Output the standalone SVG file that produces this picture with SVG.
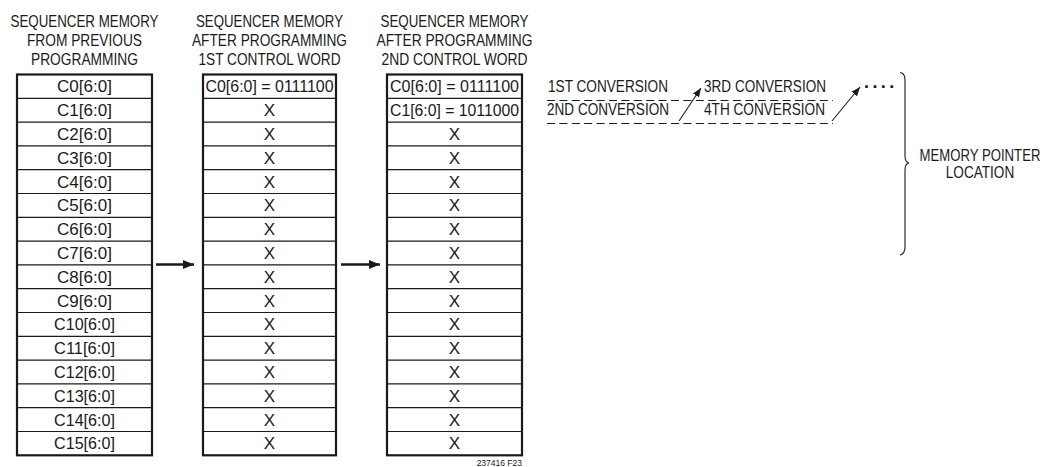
<svg xmlns="http://www.w3.org/2000/svg" width="1047" height="467" viewBox="0 0 1047 467">
<style>
text{font-family:"Liberation Sans",Arial,sans-serif;fill:#1a1a1a}
.h{font-size:17px;text-anchor:middle}
.c{font-size:17px;text-anchor:middle}
.t{font-size:17px}
.frame{fill:#fff;stroke:#1a1a1a;stroke-width:2.2}
.rows{fill:none;stroke:#1a1a1a;stroke-width:1.2}
.big{stroke:#1a1a1a;stroke-width:2.5;fill:none}
.thin{stroke:#1a1a1a;stroke-width:1.1;fill:none}
.dash{stroke:#1a1a1a;stroke-width:1.2;fill:none;stroke-dasharray:8 4.4}
</style>
<defs>
<marker id="ah" viewBox="0 0 10 10" refX="10" refY="5" markerWidth="11" markerHeight="11" markerUnits="userSpaceOnUse" orient="auto"><path d="M0,0.8 L10,5 L0,9.2 Z" fill="#1a1a1a"/></marker>
<marker id="as" viewBox="0 0 10 10" refX="10" refY="5" markerWidth="9" markerHeight="9" markerUnits="userSpaceOnUse" orient="auto"><path d="M0,1 L10,5 L0,9 Z" fill="#1a1a1a"/></marker>
</defs>

<g id="table1">
<text class="h" x="84.5" y="26.5" textLength="148" lengthAdjust="spacingAndGlyphs">SEQUENCER MEMORY</text>
<text class="h" x="84.5" y="45.8" textLength="115" lengthAdjust="spacingAndGlyphs">FROM PREVIOUS</text>
<text class="h" x="84.5" y="65" textLength="107" lengthAdjust="spacingAndGlyphs">PROGRAMMING</text>
<rect class="frame" x="17" y="74.5" width="135" height="380.8"/>
<path class="rows" d="M17,98.3H152M17,122.1H152M17,145.9H152M17,169.7H152M17,193.5H152M17,217.3H152M17,241.1H152M17,264.9H152M17,288.7H152M17,312.5H152M17,336.3H152M17,360.1H152M17,383.9H152M17,407.7H152M17,431.5H152"/>
<text class="c" x="84.5" y="92.3">C0[6:0]</text>
<text class="c" x="84.5" y="116.1">C1[6:0]</text>
<text class="c" x="84.5" y="139.9">C2[6:0]</text>
<text class="c" x="84.5" y="163.7">C3[6:0]</text>
<text class="c" x="84.5" y="187.5">C4[6:0]</text>
<text class="c" x="84.5" y="211.3">C5[6:0]</text>
<text class="c" x="84.5" y="235.1">C6[6:0]</text>
<text class="c" x="84.5" y="258.9">C7[6:0]</text>
<text class="c" x="84.5" y="282.7">C8[6:0]</text>
<text class="c" x="84.5" y="306.5">C9[6:0]</text>
<text class="c" x="84.5" y="330.3" textLength="61" lengthAdjust="spacingAndGlyphs">C10[6:0]</text>
<text class="c" x="84.5" y="354.1" textLength="61" lengthAdjust="spacingAndGlyphs">C11[6:0]</text>
<text class="c" x="84.5" y="377.9" textLength="61" lengthAdjust="spacingAndGlyphs">C12[6:0]</text>
<text class="c" x="84.5" y="401.7" textLength="61" lengthAdjust="spacingAndGlyphs">C13[6:0]</text>
<text class="c" x="84.5" y="425.5" textLength="61" lengthAdjust="spacingAndGlyphs">C14[6:0]</text>
<text class="c" x="84.5" y="449.3" textLength="61" lengthAdjust="spacingAndGlyphs">C15[6:0]</text>
</g>

<g id="table2">
<text class="h" x="269.5" y="26.5" textLength="147" lengthAdjust="spacingAndGlyphs">SEQUENCER MEMORY</text>
<text class="h" x="269.5" y="45.8" textLength="155" lengthAdjust="spacingAndGlyphs">AFTER PROGRAMMING</text>
<text class="h" x="269.5" y="65" textLength="142" lengthAdjust="spacingAndGlyphs">1ST CONTROL WORD</text>
<rect class="frame" x="203" y="74.5" width="133" height="380.8"/>
<path class="rows" d="M203,98.3H336M203,122.1H336M203,145.9H336M203,169.7H336M203,193.5H336M203,217.3H336M203,241.1H336M203,264.9H336M203,288.7H336M203,312.5H336M203,336.3H336M203,360.1H336M203,383.9H336M203,407.7H336M203,431.5H336"/>
<text class="c" x="269.5" y="92.3" textLength="128" lengthAdjust="spacingAndGlyphs">C0[6:0] = 0111100</text>
<text class="c" x="269.5" y="116.1">X</text>
<text class="c" x="269.5" y="139.9">X</text>
<text class="c" x="269.5" y="163.7">X</text>
<text class="c" x="269.5" y="187.5">X</text>
<text class="c" x="269.5" y="211.3">X</text>
<text class="c" x="269.5" y="235.1">X</text>
<text class="c" x="269.5" y="258.9">X</text>
<text class="c" x="269.5" y="282.7">X</text>
<text class="c" x="269.5" y="306.5">X</text>
<text class="c" x="269.5" y="330.3">X</text>
<text class="c" x="269.5" y="354.1">X</text>
<text class="c" x="269.5" y="377.9">X</text>
<text class="c" x="269.5" y="401.7">X</text>
<text class="c" x="269.5" y="425.5">X</text>
<text class="c" x="269.5" y="449.3">X</text>
</g>

<g id="table3">
<text class="h" x="454.5" y="26.5" textLength="148" lengthAdjust="spacingAndGlyphs">SEQUENCER MEMORY</text>
<text class="h" x="454.5" y="45.8" textLength="156" lengthAdjust="spacingAndGlyphs">AFTER PROGRAMMING</text>
<text class="h" x="454.5" y="65" textLength="146" lengthAdjust="spacingAndGlyphs">2ND CONTROL WORD</text>
<rect class="frame" x="387" y="74.5" width="135" height="380.8"/>
<path class="rows" d="M387,98.3H522M387,122.1H522M387,145.9H522M387,169.7H522M387,193.5H522M387,217.3H522M387,241.1H522M387,264.9H522M387,288.7H522M387,312.5H522M387,336.3H522M387,360.1H522M387,383.9H522M387,407.7H522M387,431.5H522"/>
<text class="c" x="454.5" y="92.3" textLength="129" lengthAdjust="spacingAndGlyphs">C0[6:0] = 0111100</text>
<text class="c" x="454.5" y="116.1" textLength="129" lengthAdjust="spacingAndGlyphs">C1[6:0] = 1011000</text>
<text class="c" x="454.5" y="139.9">X</text>
<text class="c" x="454.5" y="163.7">X</text>
<text class="c" x="454.5" y="187.5">X</text>
<text class="c" x="454.5" y="211.3">X</text>
<text class="c" x="454.5" y="235.1">X</text>
<text class="c" x="454.5" y="258.9">X</text>
<text class="c" x="454.5" y="282.7">X</text>
<text class="c" x="454.5" y="306.5">X</text>
<text class="c" x="454.5" y="330.3">X</text>
<text class="c" x="454.5" y="354.1">X</text>
<text class="c" x="454.5" y="377.9">X</text>
<text class="c" x="454.5" y="401.7">X</text>
<text class="c" x="454.5" y="425.5">X</text>
<text class="c" x="454.5" y="449.3">X</text>
<text x="522" y="466" style="font-size:8.5px;text-anchor:end">237416 F23</text>
</g>

<g id="conversions">
<text class="t" x="548" y="92" textLength="120" lengthAdjust="spacingAndGlyphs">1ST CONVERSION</text>
<text class="t" x="547" y="115" textLength="122" lengthAdjust="spacingAndGlyphs">2ND CONVERSION</text>
<text class="t" x="704" y="92" textLength="122" lengthAdjust="spacingAndGlyphs">3RD CONVERSION</text>
<text class="t" x="704" y="115" textLength="121" lengthAdjust="spacingAndGlyphs">4TH CONVERSION</text>
<path class="dash" d="M547,100.5H833"/>
<path class="dash" d="M547,123.5H833"/>
<text x="864" y="88" style="font-size:18px;font-weight:bold;letter-spacing:3.4px">....</text>
</g>

<g id="pointer">
<path class="thin" d="M900,72.5 C904,73 905,75.5 905,80 V156 C905,160 906.5,162.5 909,163 C906.5,163.5 905,166 905,170 V247 C905,251.5 904,254 900,255"/>
<text class="t" transform="matrix(0.775 0 0 1 980 160.5)" style="text-anchor:middle">MEMORY POINTER</text>
<text class="t" transform="matrix(0.8 0 0 1 980 178)" style="text-anchor:middle">LOCATION</text>
</g>

<g id="connectors">
<path class="big" d="M156,264.5H194" marker-end="url(#ah)"/>
<path class="big" d="M341,264.5H380" marker-end="url(#ah)"/>
<path class="thin" d="M679,121L701,88" marker-end="url(#as)"/>
<path class="thin" d="M832,121L860,87" marker-end="url(#as)"/>
</g>
</svg>
